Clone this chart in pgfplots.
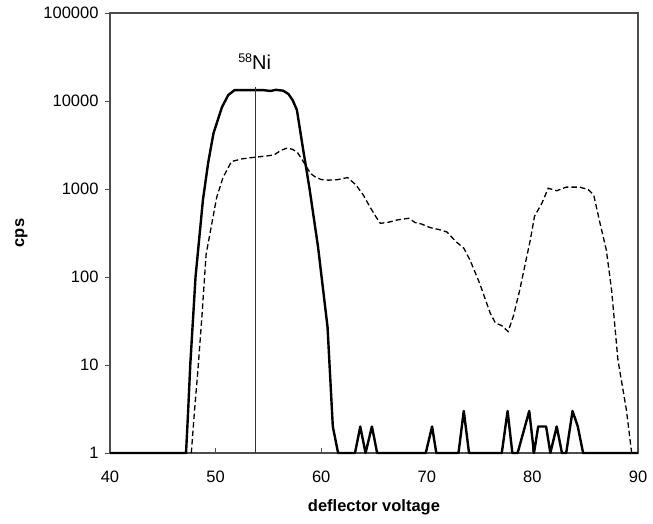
\documentclass[border=0pt]{standalone}
\usepackage{fontspec}
\setmainfont{Liberation Sans}
\usepackage{pgfplots}
\pgfplotsset{compat=1.18}

\newcommand{\tickfont}{\fontsize{16.5}{19}\selectfont}
\newcommand{\labfont}{\bfseries\fontsize{16.5}{19}\selectfont}

\begin{document}
\begin{tikzpicture}
\begin{axis}[
    width=528pt, height=440pt, scale only axis,
    xmin=40, xmax=90,
    ymode=log, ymin=1, ymax=100000,
    xtick={40,50,60,70,80,90},
    xticklabels={\tickfont 40,\tickfont 50,\tickfont 60,\tickfont 70,\tickfont 80,\tickfont 90},
    ytick={1,10,100,1000,10000,100000},
    yticklabels={\tickfont 1,\tickfont 10,\tickfont 100,\tickfont 1000,\tickfont 10000,\tickfont 100000},
    yminorticks=false,
    tick pos=left,
    tick align=inside,
    major tick length=5pt,
    ytick style={xshift=-5pt},
    every tick/.style={black!70, line width=0.9pt},
    axis line style={black!70, line width=1.2pt},
    xticklabel style={anchor=center, yshift=-24pt},
    yticklabel style={anchor=east, xshift=-8pt},
    xlabel={\labfont deflector voltage},
    ylabel={\labfont cps},
    xlabel style={at={(axis description cs:0.5,-0.123)}, anchor=center},
    ylabel style={at={(axis description cs:-0.168,0.5)}, anchor=center},
    clip=false,
]
% dashed scan
\addplot[black, line width=1.3pt, dash pattern=on 5.5pt off 3pt] coordinates {
(47.7,1) (48.0,3) (48.3,8) (48.7,35) (49.1,180) (49.6,380) (50.1,800) (50.7,1350)
(51.5,2050) (52.5,2200) (53.5,2280) (54.5,2350) (55.5,2430) (56.2,2750) (56.7,2900)
(57.2,2850) (57.7,2650) (58.2,2150) (58.6,1790) (59.0,1500) (59.4,1380) (60.0,1280)
(60.7,1260) (61.6,1280) (62.5,1350) (63.3,1110) (64.0,850) (64.6,630) (65.2,480)
(65.6,407) (66.4,420) (67.2,445) (68.3,465) (68.9,415) (69.5,400) (70.3,365)
(71.2,345) (71.9,325) (72.8,250) (73.5,213) (74.1,155) (75.0,85) (76.0,39)
(76.5,30) (77.1,28) (77.7,24) (78.2,36) (78.8,71) (79.4,156) (79.8,263) (80.2,490)
(80.9,690) (81.5,1020) (82.3,955) (83.2,1050) (84.5,1050) (85.3,980) (85.8,860)
(86.4,410) (87.0,203) (87.5,71) (88.1,11.4) (88.9,3.1) (89.4,1)
};
% solid scan
\addplot[black, line width=2.4pt, line join=round] coordinates {
(40,1) (47.2,1) (47.4,3) (47.6,10) (48.1,100) (48.8,750) (49.3,2000) (49.8,4300)
(50.6,8500) (51.2,11700) (51.8,13300) (53.0,13300) (54.5,13300) (55.2,13000)
(55.7,13400) (56.4,13100) (56.9,12000) (57.3,10200) (57.7,7900) (58.3,2760)
(58.9,1000) (59.7,220) (60.6,27) (61.1,2) (61.6,1)
(63.2,1) (63.7,2) (64.2,1) (64.8,2) (65.3,1)
(69.9,1) (70.5,2) (70.9,1)
(73.0,1) (73.5,3) (74.0,1)
(77.1,1) (77.65,3) (78.1,1) (78.6,1) (79.7,3) (80.15,1) (80.55,2) (81.3,2) (81.7,1)
(82.3,2) (82.8,1) (83.2,1) (83.8,3) (84.3,2) (84.8,1) (90,1)
};
% marker line
\addplot[black!80, line width=1.1pt] coordinates {(53.8,1) (53.8,14500)};
\node[anchor=base] at (axis cs:53.7,22600)
    {{\fontsize{12.5}{14}\selectfont\raisebox{7.5pt}{58}}{\fontsize{20}{24}\selectfont Ni}};
\end{axis}
\pgfresetboundingbox
\path[use as bounding box] (-110pt,-70pt) rectangle (543pt,453pt);
\end{tikzpicture}
\end{document}
